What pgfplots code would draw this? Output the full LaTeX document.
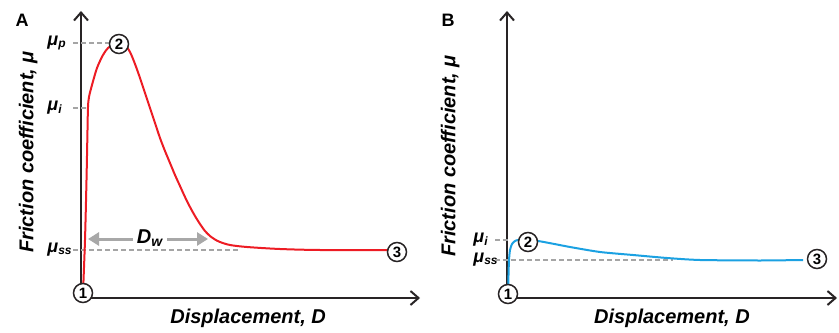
\documentclass[border=0pt]{standalone}
\usepackage{fontspec}
\setmainfont{Liberation Sans}
\usepackage{pgfplots}
\pgfplotsset{compat=1.18}
\usetikzlibrary{arrows.meta}
\definecolor{redc}{RGB}{237,28,36}
\definecolor{bluec}{RGB}{27,161,226}
\definecolor{axc}{RGB}{40,36,37}
\definecolor{dashc}{RGB}{165,165,165}
\definecolor{arrc}{RGB}{168,168,168}
\newcommand{\mub}[1]{\bfseries\itshape μ\textsubscript{#1}}
\tikzset{
  circ/.style={circle, draw=axc, fill=white, line width=0.75pt, inner sep=0pt,
    minimum size=9.5pt, font=\fontsize{7.5}{7.5}\selectfont\bfseries},
  guide/.style={dashc, line width=0.8pt, dash pattern=on 2.5pt off 1.5pt},
}
\pgfplotsset{
  panel/.style={
    x=0.5pt, y=0.5pt,
    xmin=0, ymin=0, ymax=287,
    axis lines=left,
    axis line style={line width=1pt, draw=axc,
      -{Straight Barb[length=4pt,width=7pt,line width=1pt]}},
    xtick=\empty,
    major tick length=0pt,
    clip=false,
    enlargelimits=false,
    yticklabel style={anchor=west, inner sep=0pt, xshift=-17pt,
      font=\fontsize{9}{10}\selectfont},
    label style={font=\fontsize{10}{12}\selectfont\bfseries\itshape},
    xlabel={Displacement, D},
    ylabel={Friction coefficient, μ},
    anchor=south west,
  },
}
\begin{document}
\begin{tikzpicture}
\path[use as bounding box] (0,0) rectangle (419.5pt,166pt);
% ---------------- Panel A ----------------
\begin{axis}[panel, at={(40.5pt,17pt)}, xmax=339,
  ytick={48,190,255}, yticklabels={\mub{ss},\mub{i},\mub{p}},
  xlabel style={at={(axis description cs:0.493,-0.070)}, anchor=center},
  ylabel style={at={(axis description cs:-0.156,0.509)}, anchor=center}]
\draw[guide] (axis cs:-8,255) -- (axis cs:29,255);
\draw[guide] (axis cs:-8,190) -- (axis cs:7,190);
\draw[guide] (axis cs:-8,48) -- (axis cs:157,48);
\addplot[redc, line width=1pt, smooth, tension=0.5] coordinates {
(2,5) (4,58) (5.5,118) (6.5,168) (7,191) (8,201) (11,213) (16,230)
(22,243) (27,250) (32,253) (38,254.5) (44,253) (49,246) (54,234) (59,220)
(64,205) (69,190) (74,175) (79,160) (84,147) (89,135) (94,123) (99,112)
(104,101) (109,91) (114,82) (119,74) (124,67) (129,62) (134,58.5) (139,56)
(149,53) (166,51) (199,49) (239,48) (308,48)
};
\draw[arrc, line width=1.5pt, -{Triangle[length=5.5pt,width=6.5pt]}]
  (axis cs:52,59) -- (axis cs:7,59);
\draw[arrc, line width=1.5pt, -{Triangle[length=5.5pt,width=6.5pt]}]
  (axis cs:86,59) -- (axis cs:127,59);
\node[font=\fontsize{10}{12}\selectfont\bfseries\itshape] at (axis cs:69,60) {D\textsubscript{w}};
\node[circ] at (axis cs:2,5) {1};
\node[circ] at (axis cs:38,254) {2};
\node[circ] at (axis cs:316,46) {3};
\end{axis}
% ---------------- Panel B ----------------
\begin{axis}[panel, at={(253.5pt,17pt)}, xmax=330,
  ytick={38,58}, yticklabels={\mub{ss},\mub{i}},
  xlabel style={at={(axis description cs:0.50,-0.070)}, anchor=center},
  ylabel style={at={(axis description cs:-0.172,0.495)}, anchor=center}]
\draw[guide] (axis cs:-12,58) -- (axis cs:4,58);
\draw[guide] (axis cs:-12,38) -- (axis cs:166,38);
\addplot[bluec, line width=1pt, smooth, tension=0.4] coordinates {
(1,5) (1.5,23) (2,38) (3,48) (5,54) (8,57) (12,58) (31,57) (63,51)
(93,46) (126,43) (160,40) (193,38) (253,37.5) (296,38)
};
\node[circ] at (axis cs:1,4) {1};
\node[circ] at (axis cs:21,56) {2};
\node[circ] at (axis cs:310,39) {3};
\end{axis}
\node[font=\fontsize{9}{10}\selectfont\bfseries] at (11pt,156pt) {A};
\node[font=\fontsize{9}{10}\selectfont\bfseries] at (224pt,156pt) {B};
\end{tikzpicture}
\end{document}
